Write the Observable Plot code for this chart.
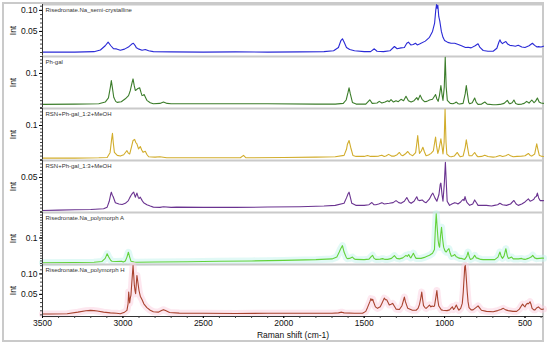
<!DOCTYPE html>
<html><head><meta charset="utf-8">
<script src="https://cdn.jsdelivr.net/npm/d3@7"></script>
<script src="https://cdn.jsdelivr.net/npm/@observablehq/plot@0.6"></script>
<style>
body{margin:0;background:#fff;font-family:"Liberation Sans",Arial,sans-serif;}
#wrap{position:relative;width:550px;height:346px;overflow:hidden;}
#frame{position:absolute;left:2px;top:2px;width:542px;height:340px;box-sizing:border-box;border:2px solid #cacaca;}
#wrap svg{position:absolute;left:0;}
</style></head><body><div id="wrap"><div id="frame"></div></div>
<script>
// Raman shift (cm-1), intensity pairs
const semiCrystalline = [[3500,0.001],[3300,0.001],[3180,0.002],[3140,0.006],[3110,0.016],[3092,0.0245],[3075,0.016],[3059,0.009],[3040,0.0085],[3016,0.0055],[2990,0.008],[2966,0.0128],[2945,0.02],[2935,0.022],[2925,0.017],[2916,0.011],[2900,0.008],[2881,0.0055],[2861,0.007],[2840,0.004],[2811,0.002],[2700,0.0015],[2500,0.001],[2300,0.0015],[2100,0.001],[1900,0.0015],[1750,0.002],[1690,0.004],[1660,0.012],[1645,0.028],[1635,0.0326],[1625,0.025],[1610,0.012],[1590,0.007],[1560,0.004],[1500,0.002],[1460,0.002],[1437,0.0088],[1420,0.003],[1380,0.002],[1340,0.004],[1312,0.0143],[1295,0.009],[1271,0.011],[1250,0.012],[1235,0.022],[1225,0.0245],[1210,0.018],[1195,0.019],[1181,0.022],[1170,0.018],[1156,0.02],[1120,0.027],[1094,0.036],[1075,0.05],[1062,0.07],[1055,0.1],[1050,0.114],[1046,0.105],[1042,0.112],[1036,0.085],[1030,0.075],[1020,0.05],[1010,0.036],[1000,0.0286],[980,0.024],[960,0.022],[937,0.022],[915,0.019],[895,0.016],[870,0.012],[854,0.0126],[835,0.011],[810,0.016],[792,0.0207],[780,0.012],[760,0.0048],[730,0.003],[698,0.003],[675,0.01],[662,0.025],[656,0.03],[648,0.024],[640,0.021],[630,0.024],[619,0.026],[608,0.02],[594,0.017],[575,0.016],[560,0.015],[542,0.017],[520,0.013],[500,0.012],[475,0.016],[454,0.022],[440,0.017],[425,0.013],[417,0.014],[400,0.013],[385,0.015]];

const phGal = [[3500,0.009],[3300,0.01],[3150,0.011],[3110,0.016],[3090,0.028],[3078,0.06],[3072,0.079],[3066,0.06],[3057,0.03],[3045,0.018],[3036,0.015],[3010,0.017],[2985,0.0255],[2965,0.035],[2954,0.05],[2942,0.075],[2937,0.084],[2930,0.065],[2923,0.05],[2916,0.052],[2910,0.055],[2896,0.058],[2888,0.045],[2881,0.035],[2874,0.036],[2868,0.038],[2858,0.028],[2851,0.021],[2830,0.014],[2811,0.011],[2770,0.012],[2748,0.016],[2725,0.012],[2700,0.011],[2400,0.011],[2100,0.011],[1800,0.01],[1680,0.01],[1630,0.012],[1612,0.022],[1600,0.045],[1594,0.058],[1586,0.04],[1573,0.015],[1550,0.01],[1490,0.01],[1465,0.0226],[1450,0.012],[1420,0.013],[1406,0.018],[1390,0.013],[1370,0.016],[1354,0.02],[1344,0.017],[1333,0.023],[1318,0.016],[1302,0.02],[1288,0.017],[1271,0.024],[1255,0.02],[1240,0.033],[1225,0.02],[1208,0.016],[1190,0.02],[1173,0.029],[1165,0.022],[1152,0.0363],[1140,0.024],[1125,0.017],[1110,0.018],[1094,0.022],[1075,0.024],[1056,0.038],[1048,0.025],[1040,0.018],[1032,0.035],[1023,0.0647],[1015,0.035],[1010,0.021],[1002,0.06],[996,0.148],[990,0.06],[983,0.021],[965,0.012],[948,0.011],[937,0.013],[927,0.016],[915,0.011],[906,0.01],[885,0.012],[872,0.04],[865,0.0647],[858,0.04],[850,0.015],[844,0.011],[828,0.014],[813,0.028],[803,0.015],[792,0.009],[770,0.01],[750,0.016],[735,0.01],[698,0.008],[680,0.008],[656,0.009],[630,0.012],[610,0.021],[598,0.012],[594,0.011],[580,0.014],[569,0.022],[558,0.012],[542,0.009],[520,0.01],[505,0.012],[490,0.018],[475,0.013],[458,0.022],[444,0.014],[435,0.018],[423,0.028],[412,0.016],[400,0.013],[385,0.012]];

const rsnPhGal12 = [[3500,0.004],[3300,0.004],[3150,0.005],[3098,0.006],[3080,0.02],[3070,0.06],[3065,0.077],[3060,0.05],[3053,0.021],[3035,0.012],[3016,0.01],[2995,0.014],[2982,0.022],[2975,0.026],[2966,0.018],[2958,0.016],[2945,0.04],[2937,0.056],[2927,0.059],[2920,0.05],[2913,0.046],[2903,0.031],[2892,0.038],[2883,0.028],[2875,0.021],[2868,0.023],[2861,0.024],[2850,0.014],[2840,0.008],[2800,0.007],[2770,0.008],[2728,0.005],[2500,0.005],[2270,0.005],[2250,0.012],[2235,0.005],[2000,0.006],[1800,0.007],[1680,0.008],[1625,0.012],[1610,0.03],[1604,0.045],[1594,0.056],[1584,0.036],[1570,0.012],[1550,0.009],[1500,0.009],[1479,0.0117],[1460,0.009],[1437,0.009],[1410,0.01],[1390,0.0127],[1375,0.009],[1365,0.01],[1348,0.015],[1330,0.01],[1312,0.01],[1295,0.014],[1281,0.0206],[1270,0.013],[1260,0.011],[1245,0.016],[1229,0.0235],[1215,0.015],[1198,0.011],[1180,0.02],[1172,0.05],[1167,0.0706],[1160,0.035],[1156,0.018],[1145,0.025],[1135,0.036],[1125,0.022],[1115,0.011],[1100,0.013],[1084,0.018],[1070,0.025],[1060,0.055],[1056,0.066],[1050,0.04],[1042,0.018],[1035,0.03],[1023,0.061],[1015,0.035],[1010,0.016],[1003,0.05],[997,0.148],[991,0.05],[986,0.016],[970,0.009],[958,0.008],[940,0.01],[921,0.0206],[910,0.012],[902,0.008],[885,0.01],[872,0.035],[865,0.058],[857,0.035],[848,0.011],[830,0.011],[813,0.0206],[800,0.011],[792,0.008],[770,0.009],[750,0.0127],[730,0.009],[698,0.007],[680,0.008],[656,0.0118],[640,0.009],[620,0.011],[604,0.015],[590,0.011],[573,0.008],[550,0.009],[521,0.01],[500,0.011],[479,0.0177],[468,0.012],[458,0.01],[440,0.016],[432,0.035],[427,0.046],[420,0.03],[411,0.012],[400,0.01],[385,0.009]];

const rsnPhGal13 = [[3500,0.0015],[3400,0.002],[3300,0.0025],[3200,0.003],[3120,0.004],[3098,0.0064],[3085,0.015],[3076,0.025],[3072,0.0284],[3066,0.024],[3061,0.022],[3047,0.0128],[3025,0.011],[3005,0.0103],[2985,0.012],[2966,0.016],[2958,0.02],[2950,0.0235],[2940,0.027],[2933,0.0284],[2923,0.021],[2918,0.024],[2913,0.027],[2905,0.021],[2900,0.019],[2892,0.021],[2880,0.016],[2871,0.0128],[2851,0.01],[2830,0.008],[2811,0.0064],[2770,0.006],[2748,0.007],[2700,0.006],[2666,0.0064],[2500,0.006],[2300,0.006],[2100,0.0065],[1900,0.007],[1750,0.008],[1680,0.009],[1625,0.012],[1610,0.02],[1600,0.026],[1594,0.0284],[1585,0.02],[1577,0.012],[1552,0.009],[1500,0.009],[1470,0.01],[1452,0.0132],[1440,0.01],[1427,0.01],[1410,0.011],[1390,0.013],[1375,0.011],[1344,0.012],[1320,0.013],[1302,0.016],[1285,0.013],[1271,0.012],[1250,0.015],[1235,0.0206],[1220,0.014],[1208,0.012],[1190,0.015],[1173,0.0216],[1165,0.017],[1156,0.016],[1140,0.017],[1125,0.014],[1115,0.013],[1095,0.018],[1080,0.025],[1073,0.027],[1060,0.02],[1048,0.015],[1035,0.025],[1027,0.04],[1023,0.0417],[1016,0.025],[1010,0.015],[1002,0.04],[995,0.0725],[988,0.035],[984,0.015],[969,0.009],[955,0.011],[937,0.013],[925,0.012],[917,0.011],[900,0.014],[885,0.018],[879,0.016],[873,0.022],[866,0.016],[860,0.013],[844,0.009],[825,0.011],[813,0.017],[800,0.012],[792,0.009],[760,0.009],[740,0.009],[708,0.008],[690,0.009],[670,0.01],[656,0.0122],[640,0.01],[615,0.009],[590,0.011],[569,0.0162],[555,0.011],[542,0.009],[520,0.011],[500,0.014],[479,0.0186],[468,0.015],[458,0.016],[445,0.018],[438,0.021],[430,0.022],[423,0.027],[415,0.02],[406,0.016],[395,0.016],[385,0.016]];

const polymorphA = [[3500,0.003],[3300,0.004],[3180,0.005],[3130,0.008],[3110,0.02],[3098,0.038],[3088,0.025],[3075,0.012],[3068,0.009],[3040,0.008],[3008,0.009],[2998,0.006],[2985,0.01],[2975,0.025],[2966,0.044],[2958,0.025],[2950,0.009],[2930,0.006],[2913,0.005],[2800,0.006],[2600,0.007],[2400,0.009],[2200,0.01],[2000,0.012],[1800,0.015],[1700,0.018],[1670,0.025],[1655,0.045],[1646,0.058],[1635,0.07],[1625,0.045],[1610,0.022],[1604,0.019],[1590,0.02],[1573,0.025],[1562,0.018],[1552,0.016],[1500,0.015],[1470,0.017],[1455,0.028],[1448,0.032],[1438,0.02],[1427,0.016],[1400,0.017],[1385,0.019],[1370,0.016],[1354,0.016],[1330,0.02],[1312,0.0307],[1298,0.02],[1281,0.018],[1260,0.022],[1240,0.032],[1232,0.028],[1223,0.035],[1215,0.025],[1210,0.022],[1200,0.033],[1194,0.04],[1185,0.028],[1177,0.02],[1160,0.02],[1146,0.02],[1120,0.025],[1094,0.032],[1075,0.04],[1063,0.055],[1057,0.14],[1052,0.195],[1046,0.14],[1040,0.09],[1035,0.07],[1031,0.064],[1025,0.11],[1019,0.142],[1013,0.1],[1006,0.064],[998,0.05],[990,0.045],[982,0.052],[973,0.058],[965,0.04],[958,0.028],[948,0.03],[937,0.035],[927,0.026],[917,0.023],[905,0.02],[896,0.02],[875,0.016],[862,0.028],[854,0.045],[846,0.025],[840,0.016],[825,0.02],[813,0.032],[803,0.022],[792,0.02],[775,0.016],[760,0.015],[720,0.015],[688,0.015],[668,0.025],[656,0.045],[648,0.028],[640,0.02],[630,0.03],[619,0.058],[610,0.03],[604,0.02],[595,0.022],[583,0.025],[573,0.018],[563,0.018],[540,0.018],[521,0.02],[510,0.017],[500,0.016],[480,0.02],[462,0.025],[452,0.032],[440,0.022],[427,0.019],[410,0.02],[395,0.021],[385,0.021]];

const polymorphH = [[3500,0.002],[3450,0.002],[3347,0.0029],[3280,0.0066],[3230,0.0099],[3202,0.0109],[3180,0.0104],[3160,0.0094],[3120,0.0066],[3078,0.0048],[3040,0.0039],[3016,0.0029],[2990,0.0066],[2975,0.0109],[2968,0.027],[2964,0.0558],[2960,0.0363],[2958,0.0289],[2954,0.0409],[2950,0.0484],[2944,0.0827],[2937,0.1207],[2932,0.0919],[2929,0.0725],[2925,0.0595],[2921,0.0516],[2917,0.0734],[2913,0.0963],[2908,0.0827],[2900,0.0595],[2892,0.0456],[2880,0.0363],[2870,0.027],[2851,0.0178],[2830,0.0113],[2811,0.0076],[2780,0.0066],[2760,0.0104],[2748,0.0127],[2735,0.0104],[2710,0.0057],[2650,0.0043],[2500,0.0039],[2300,0.0034],[2100,0.0039],[1900,0.0039],[1700,0.0039],[1660,0.0048],[1640,0.0066],[1625,0.0048],[1560,0.0039],[1510,0.0039],[1490,0.0085],[1479,0.0182],[1465,0.0317],[1458,0.0395],[1452,0.0354],[1447,0.0382],[1442,0.0321],[1430,0.0196],[1417,0.0159],[1400,0.0196],[1390,0.028],[1375,0.0409],[1368,0.0372],[1360,0.037],[1352,0.0307],[1344,0.0243],[1333,0.0261],[1323,0.028],[1310,0.0196],[1302,0.0141],[1281,0.0131],[1265,0.0224],[1255,0.0363],[1250,0.0434],[1243,0.0317],[1229,0.0159],[1200,0.0113],[1177,0.0113],[1165,0.0159],[1156,0.0256],[1148,0.0409],[1142,0.0555],[1136,0.0363],[1131,0.0224],[1120,0.0168],[1115,0.0159],[1105,0.0196],[1094,0.024],[1085,0.0196],[1077,0.0215],[1070,0.0205],[1063,0.0215],[1055,0.0409],[1048,0.0595],[1042,0.0363],[1036,0.0215],[1020,0.0122],[1010,0.0113],[985,0.0104],[969,0.0122],[958,0.0168],[952,0.0199],[944,0.0131],[935,0.0178],[927,0.024],[918,0.0159],[911,0.0113],[900,0.0159],[890,0.028],[884,0.0549],[881,0.0762],[877,0.1012],[875,0.117],[871,0.1207],[867,0.1012],[863,0.078],[860,0.0595],[854,0.0317],[848,0.0178],[835,0.0122],[823,0.0122],[805,0.0178],[792,0.0219],[780,0.0159],[771,0.0113],[740,0.0085],[698,0.0076],[670,0.0104],[650,0.0131],[635,0.0159],[620,0.0122],[604,0.0104],[575,0.0085],[552,0.0085],[535,0.0141],[520,0.0233],[515,0.0261],[508,0.0224],[500,0.0196],[493,0.0252],[486,0.028],[478,0.027],[469,0.0321],[462,0.0252],[456,0.0159],[445,0.0122],[438,0.0122],[428,0.0168],[417,0.0196],[405,0.015],[395,0.0131],[385,0.0141]];

const panelNames = ["Risedronate.Na_semi-crystalline","Ph-gal","RSN+Ph-gal_1:2+MeOH","RSN+Ph-gal_1:3+MeOH","Risedronate.Na_polymorph A","Risedronate.Na_polymorph H"];
const series = [semiCrystalline, phGal, rsnPhGal12, rsnPhGal13, polymorphA, polymorphH];
const yTickValues = [[0.10,0.05],[0.1],[0.1],[0.05],[0.1],[0.10,0.05]];
const yTickDecimals = [2,1,1,2,1,2];
const xTickValues = [3500,3000,2500,2000,1500,1000,500];
const xDomain = [3500,385];
const yDomains = [[-0.0095,0.114],[-0.003,0.15],[-0.003,0.15],[-0.0015,0.075],[-0.004,0.2],[-0.004,0.123]];

// styles
const colors = ["#2a2ad6","#3c7d2b","#d2ad2c","#6a3390","#63d23a","#a9432f"];
const halos = [null,null,null,null,"#c4f4ee","#fbcfe0"];

const wrap = document.getElementById("wrap");
const panelH = 52, top0 = 4;
series.forEach((data, i) => {
  const last = i === series.length - 1;
  const marks = [
    Plot.ruleY([yDomains[i][1]], {stroke: "#cacaca", strokeWidth: 2}),
  ];
  if (halos[i]) marks.push(Plot.lineY(data, {x: d => d[0], y: d => d[1], stroke: halos[i], strokeWidth: 7, strokeOpacity: 0.5, strokeLinejoin: "round"}));
  marks.push(
    Plot.lineY(data, {x: d => d[0], y: d => d[1], stroke: colors[i], strokeWidth: 1.1}),
    Plot.axisY({ticks: 16, tickSize: 2, tickFormat: () => "", label: null, stroke: "#444"}),
    Plot.axisY({ticks: yTickValues[i], tickSize: 3, tickPadding: 2, tickFormat: d => d.toFixed(yTickDecimals[i]), fontSize: 8.5, label: "Int", labelAnchor: "center", labelOffset: 33, labelArrow: "none", fill: "#111"}),
    Plot.ruleX([xDomain[0]], {stroke: "#333", strokeWidth: 1}),
    Plot.text([panelNames[i]], {text: d => d, frameAnchor: "top-left", dx: 3, dy: 3, fontSize: 6, fill: "#333", lineAnchor: "top"})
  );
  if (last) {
    marks.push(
      Plot.ruleY([yDomains[i][0]], {stroke: "#333", strokeWidth: 1}),
      Plot.axisX({ticks: 31, tickSize: 2, tickFormat: () => "", label: null, stroke: "#444"}),
      Plot.axisX({ticks: xTickValues, tickSize: 2, tickPadding: 1, tickFormat: d => String(d), fontSize: 8.5, label: "Raman shift (cm-1)", labelAnchor: "center", labelArrow: "none", fill: "#111"})
    );
  } else {
    marks.push(Plot.axisX({ticks: [], label: null}));
  }
  const chart = Plot.plot({
    width: 545,
    height: last ? panelH + 24 : panelH,
    marginLeft: 42,
    marginRight: 2,
    marginTop: 0,
    marginBottom: last ? 24 : 0,
    style: {fontFamily: "'Liberation Sans', Arial, sans-serif", background: "transparent", overflow: "visible"},
    x: {domain: xDomain},
    y: {domain: yDomains[i], clamp: true},
    marks
  });
  chart.style.top = (top0 + panelH * i) + "px";
  chart.style.position = "absolute";
  wrap.appendChild(chart);
});
</script>
</body></html>
